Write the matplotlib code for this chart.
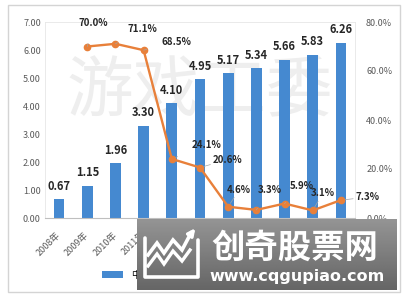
import matplotlib
matplotlib.use('Agg')
import matplotlib.pyplot as plt
from matplotlib.patches import Rectangle
from matplotlib.ticker import FuncFormatter
import numpy as np

plt.rcParams['font.family'] = ['Noto Sans CJK SC', 'DejaVu Sans']

years = ['2008年', '2009年', '2010年', '2011年', '2012年', '2013年',
         '2014年', '2015年', '2016年', '2017年', '2018年']
users = [0.67, 1.15, 1.96, 3.30, 4.10, 4.95, 5.17, 5.34, 5.66, 5.83, 6.26]
growth = [70.0, 71.1, 68.5, 24.1, 20.6, 4.6, 3.3, 5.9, 3.1, 7.3]   # 2009-2018, %
bar_name = '中国游戏用户规模（亿人）'
line_name = '增长率'

# label offsets for the growth line, in pixels
lab_off = [(6, 23), (27, 15), (33, 8), (35, 14), (28, 8),
           (11, 17), (13, 20), (17, 18), (10, 17), (27, 3)]

W, H = 407, 300
fig = plt.figure(figsize=(W / 100, H / 100), dpi=100)

# outer frame
fig.patches.append(Rectangle((8 / W, 8 / H), 392 / W, 287 / H, transform=fig.transFigure,
                             fill=False, ec='#d4d4d4', lw=1))

ax = fig.add_axes([45 / W, 82 / H, 310 / W, 196 / H])
x = np.arange(len(years))

# faint background watermark
ax.text(0.5, 0.64, '游戏工委', transform=ax.transAxes, ha='center', va='center',
        fontsize=48, color='#eeeeee', zorder=0)

bars = ax.bar(x, users, width=0.38, color='#4589d0', label=bar_name, zorder=2)
for xi, v in zip(x, users):
    ax.annotate(f'{v:.2f}', (xi, v), xytext=(0, 13), textcoords='offset pixels',
                ha='center', va='center', fontsize=8, fontweight='bold', color='#262626')

ax.set_xlim(-0.5, len(years) - 0.5)
ax.set_ylim(0, 7)
ax.set_yticks(np.arange(0, 8, 1))
ax.yaxis.set_major_formatter(FuncFormatter(lambda v, p: f'{v:.2f}'))
ax.set_xticks(x)
ax.set_xticklabels(years, rotation=45, ha='right', va='center', rotation_mode='anchor')
ax.tick_params(axis='both', length=0, labelsize=6.5, colors='#595959')
ax.tick_params(axis='x', pad=11)
ax.tick_params(axis='y', pad=3)
for s in ['left', 'top', 'right']:
    ax.spines[s].set_color('#e6e6e6')
    ax.spines[s].set_linewidth(0.6)
ax.spines['bottom'].set_color('#bfbfbf')
ax.spines['bottom'].set_linewidth(0.8)

ax2 = ax.twinx()
g = np.array(growth) / 100
line, = ax2.plot(x[1:], g, color='#e8803a', lw=1.7, marker='o', ms=4.5,
                 label=line_name, zorder=3)
for xi, v, (dx, dy) in zip(x[1:], g, lab_off):
    ax2.annotate(f'{v * 100:.1f}%', (xi, v), xytext=(dx, dy), textcoords='offset pixels',
                 ha='center', va='center', fontsize=7, fontweight='bold', color='#262626',
                 arrowprops=dict(arrowstyle='-', color='#a6a6a6', lw=0.5,
                                 shrinkA=9, shrinkB=3))
ax2.set_ylim(0, 0.8)
ax2.set_yticks(np.arange(0, 0.81, 0.2))
ax2.yaxis.set_major_formatter(FuncFormatter(lambda v, p: f'{v * 100:.1f}%'))
ax2.tick_params(axis='y', length=0, labelsize=6.5, colors='#595959', pad=8)
for s in ax2.spines.values():
    s.set_visible(False)

fig.legend(handles=[bars, line], loc='center', bbox_to_anchor=(0.52, 0.083), ncol=2,
           frameon=False, fontsize=7, handlelength=2.2, columnspacing=1.5)

# website banner overlay
bx0, by0, bw, bh = 137, 219, 260, 71
bax = fig.add_axes([bx0 / W, (H - by0 - bh) / H, bw / W, bh / H])
bax.set_zorder(10)
grad = np.linspace(0.58, 0.40, 64).reshape(-1, 1)
bax.imshow(grad, cmap='gray', vmin=0, vmax=1, aspect='auto', extent=(0, 1, 0, 1))
bax.set_xlim(0, 1)
bax.set_ylim(0, 1)
bax.axis('off')


def bp(px, py):
    return (px - bx0) / bw, 1 - (py - by0) / bh


icon_u = [bp(145, 238), bp(145, 277), bp(198, 277), bp(198, 240)]
bax.plot(*zip(*icon_u), color='white', lw=2.6, solid_joinstyle='round', solid_capstyle='round')
zig1 = [bp(148, 255), bp(157, 243), bp(164, 253), bp(173, 240), bp(182, 250), bp(191, 233)]
bax.plot(*zip(*zig1), color='white', lw=2.6, solid_joinstyle='miter')
zig2 = [bp(148, 266), bp(157, 254), bp(164, 264), bp(173, 251), bp(182, 261), bp(190, 250)]
bax.plot(*zip(*zig2), color='white', lw=2.4, solid_joinstyle='miter')
bax.annotate('', xy=bp(197, 226), xytext=bp(188, 238),
             arrowprops=dict(arrowstyle='-|>', color='white', lw=2.4, mutation_scale=10))
bax.text(*bp(295, 248), '创奇股票网', ha='center', va='center', fontsize=24,
         fontweight='bold', color='white')
bax.text(*bp(297, 276), 'www.cqgupiao.com', ha='center', va='center', fontsize=11.5,
         fontweight='bold', color='white', family='DejaVu Sans')

fig.savefig('out.png', dpi=100, facecolor='white')
